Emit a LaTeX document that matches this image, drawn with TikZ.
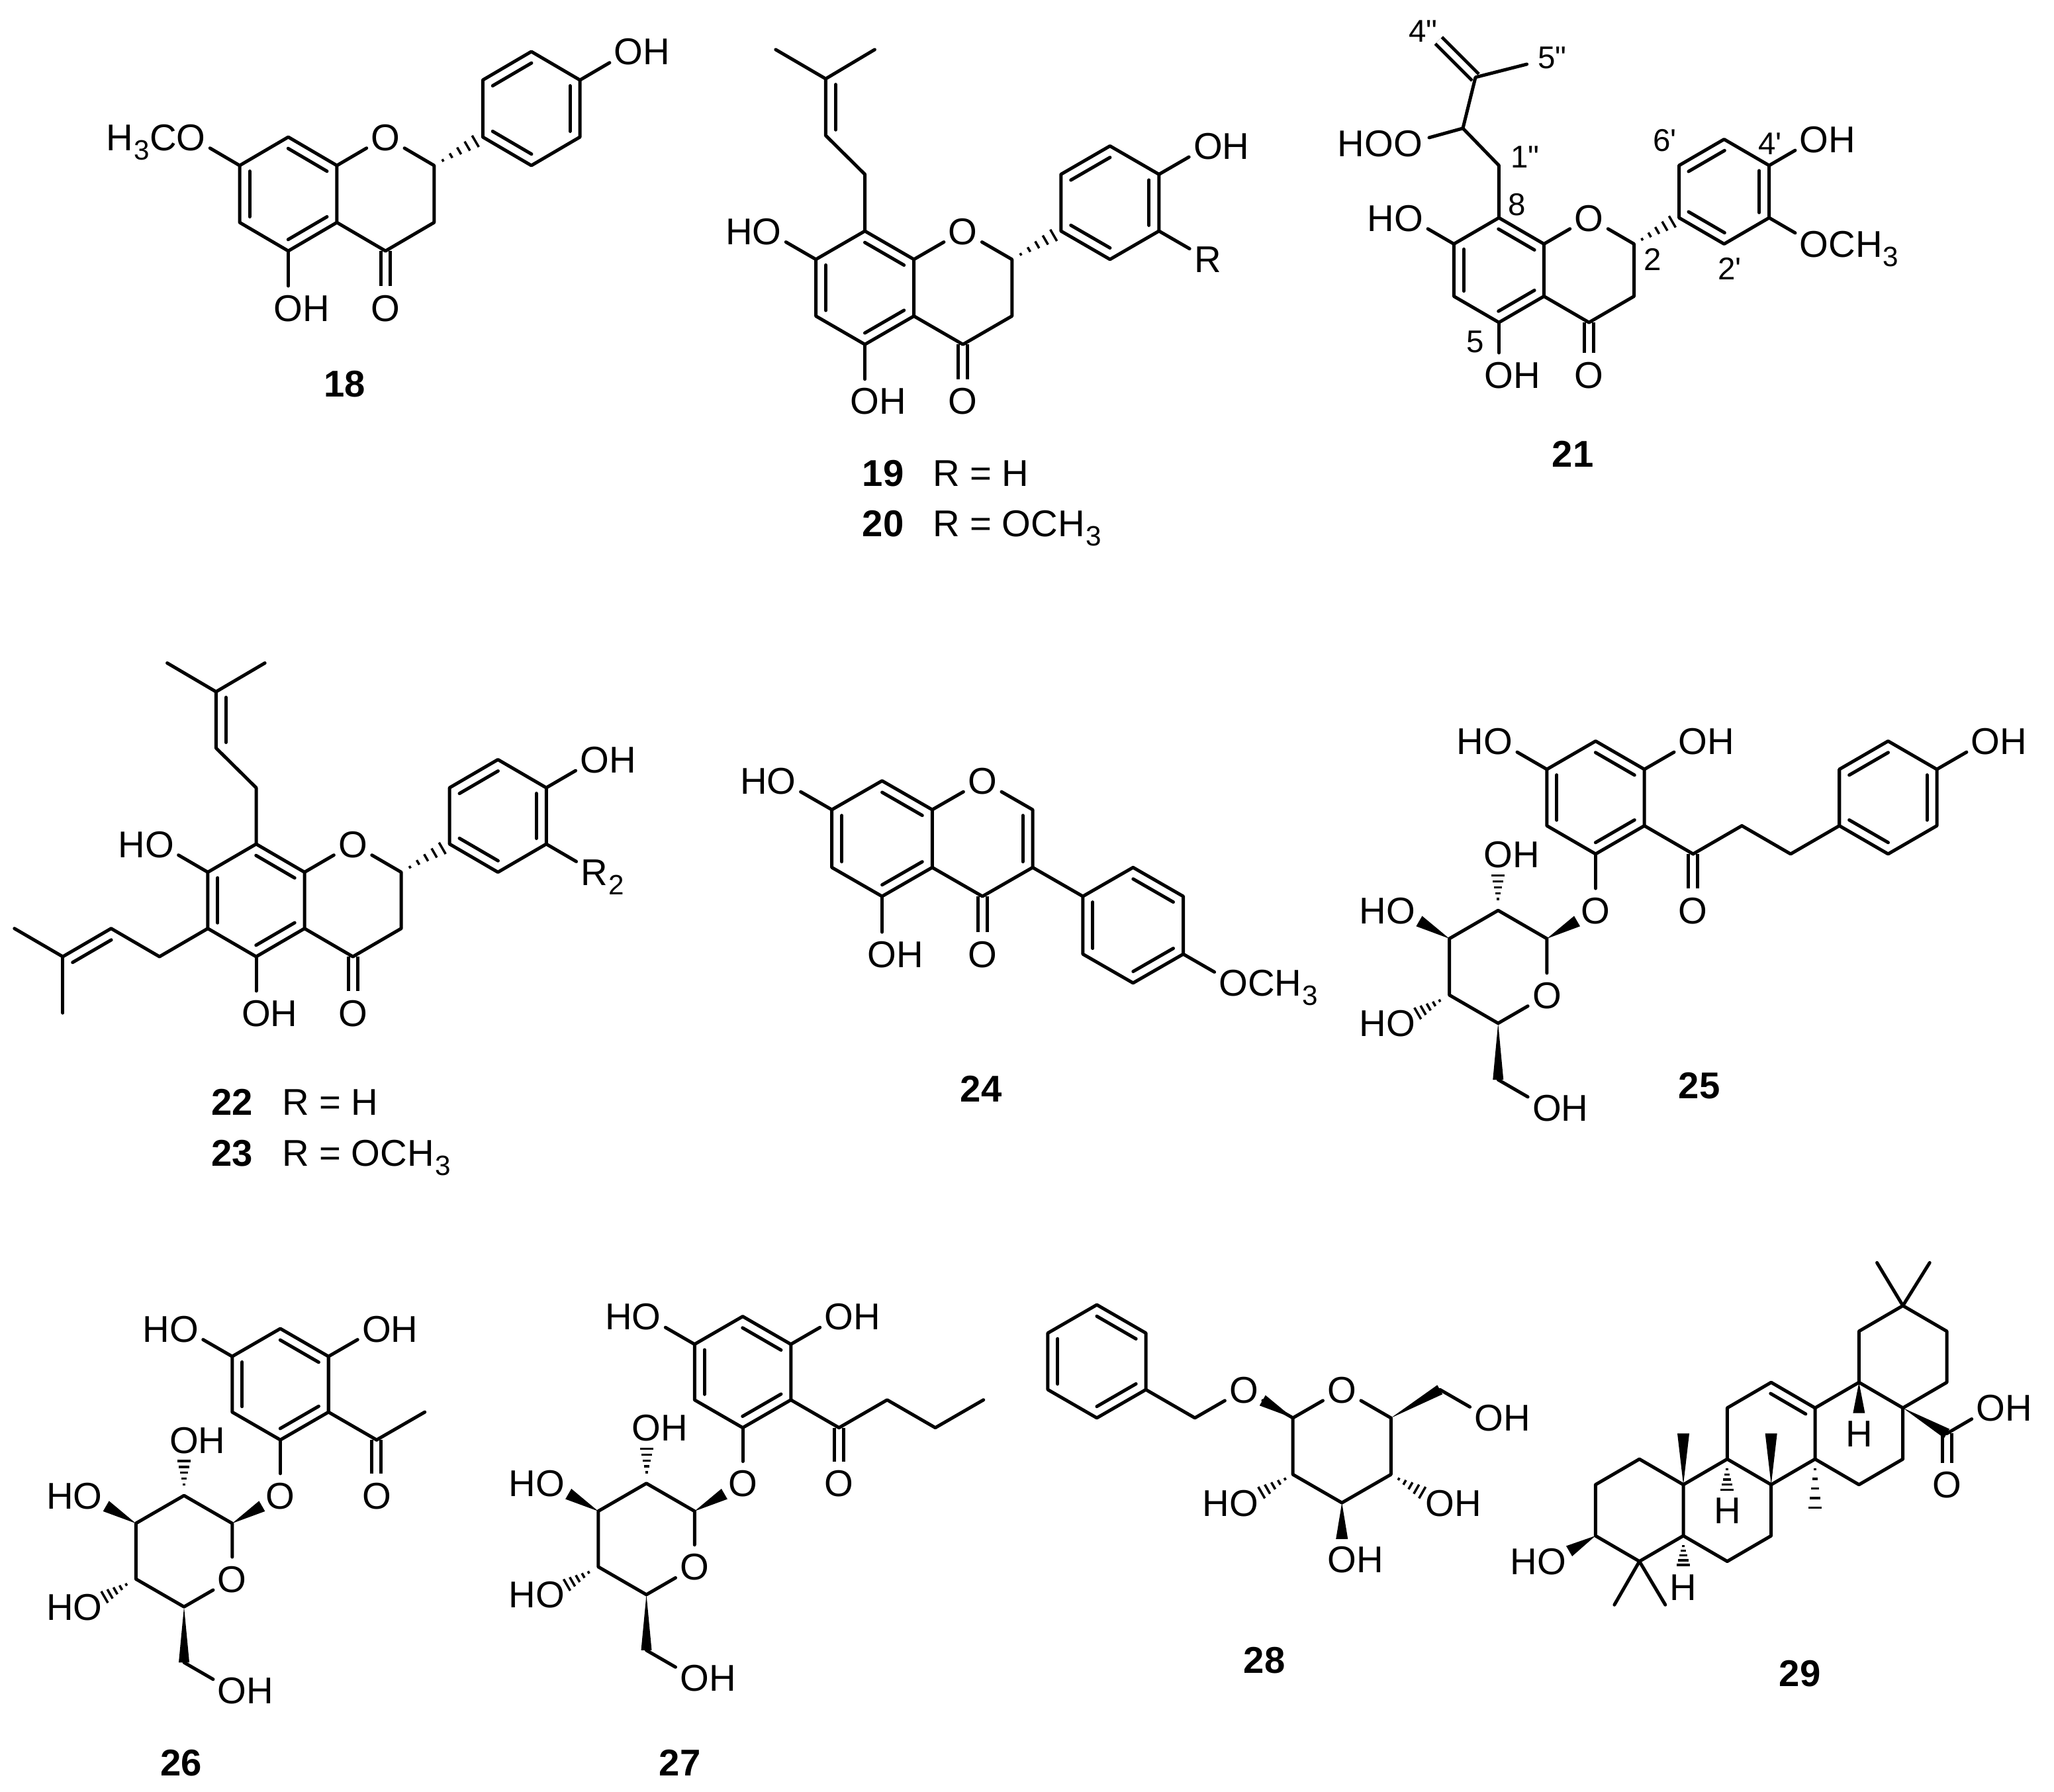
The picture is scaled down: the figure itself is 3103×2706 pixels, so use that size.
\documentclass[tikz,border=0pt]{standalone}
\usepackage{fontspec}
\usetikzlibrary{calc}
\newfontfamily\chemfont{Liberation Sans}
\tikzset{
  bond/.style={line width=.05cm,line cap=round,line join=round},
  cobond/.style={line width=.05cm,double,double distance=.09cm},
  hash/.style={line width=.035cm},
  atom/.style={circle,inner sep=.02cm,text height=.4cm,text depth=0pt,font=\chemfont\fontsize{16}{18}\selectfont},
  num/.style={inner sep=0pt,font=\chemfont\fontsize{13.5}{15}\selectfont},
  cid/.style={inner sep=0pt,text height=.4cm,text depth=0pt,font=\chemfont\fontsize{16}{18}\selectfont\bfseries},
  cidr/.style={cid,anchor=west,font=\chemfont\fontsize{16}{18}\selectfont}
}
\newcommand{\chsub}[1]{\kern.02em\raisebox{-.25em}{\fontsize{12}{12}\selectfont #1}}
\newcommand{\atoms}[1]{\foreach \nm/\xx/\yy in {#1}{\coordinate (\nm) at (\xx,\yy);}}
% inner line of a double bond, on the left of a->b
\newcommand{\inbond}[2]{\draw[bond] ($(#1)!.1!(#2)!.15cm!90:(#2)$) -- ($(#1)!.9!(#2)!.15cm!90:(#2)$);}
% wedge: tip, target, length fraction, half width in cm
\newcommand{\wedgeb}[4]{\fill (#1) -- ($(#1)!#3!(#2)!#4cm!90:(#1)$) -- ($(#1)!#3!(#2)!#4cm!-90:(#1)$) -- cycle;}
% hashed bond: start, target, first and last fraction
\newcommand{\hashb}[4]{\foreach \i in {0,...,4}{
    \pgfmathsetmacro{\hpos}{#3+(#4-#3)*\i/4}
    \pgfmathsetmacro{\hw}{.02+.08*\i/4}
    \draw[hash] ($(#1)!\hpos!(#2)!\hw cm!90:(#2)$) -- ($(#1)!\hpos!(#2)!\hw cm!-90:(#2)$);
  }}
% 5-hydroxy flavanone skeleton with its B ring
\newcommand{\flavcore}{
  \atoms{c8/0/0,c7/-1/1,c8a/1/1,c2/3/1,c3/3/3,c4/2/4,c4a/1/3,c5/0/4,c6/-1/3,
    b1/4/0,b2/5/1,b3/6/0,b4/6/-2,b5/5/-3,b6/4/-2}
  \node[atom] (o1) at (2,0) {O};
  \node[atom] (o4) at (2,6) {O};
  \node[atom] (o5) at (0,6) {O\rlap{H}};
  \node[atom] (o4p) at (7,-3) {O\rlap{H}};
  \draw[cobond] (c4) -- (o4);
  \draw[bond] (c7) -- (c8) -- (c8a) -- (c4a) -- (c5) -- (c6) -- cycle;
  \draw[bond] (c8a) -- (o1) -- (c2) -- (c3) -- (c4) -- (c4a);
  \draw[bond] (c5) -- (o5);
  \draw[bond] (b1) -- (b2) -- (b3) -- (b4) -- (b5) -- (b6) -- cycle;
  \draw[bond] (b4) -- (o4p);
  \inbond{c7}{c6} \inbond{c5}{c4a} \inbond{c8a}{c8}
  \inbond{b1}{b2} \inbond{b3}{b4} \inbond{b5}{b6}
  \hashb{c2}{b1}{.18}{.85}
}
% acylphloroglucinol with its glucose
\newcommand{\glucoside}{
  \atoms{p1/0/0,p2/-1/1,p3/-1/3,p4/0/4,p5/1/3,p6/1/1,k/2/4,
    s1/-1/7,s2/-2/6,s3/-3/7,s4/-3/9,s5/-2/10,s6/-2/12}
  \node[atom] (oa) at (-2,0) {\llap{H}O};
  \node[atom] (ob) at (2,0) {O\rlap{H}};
  \node[atom] (og) at (0,6) {O};
  \node[atom] (ok) at (2,6) {O};
  \node[atom] (so) at (-1,9) {O};
  \node[atom] (o2) at (-2,4) {O\rlap{H}};
  \node[atom] (o3) at (-4,6) {\llap{H}O};
  \node[atom] (o4) at (-4,10) {\llap{H}O};
  \node[atom] (o6) at (-1,13) {O\rlap{H}};
  \draw[cobond] (k) -- (ok);
  \draw[bond] (p1) -- (p2) -- (p3) -- (p4) -- (p5) -- (p6) -- cycle;
  \draw[bond] (p2) -- (oa);
  \draw[bond] (p6) -- (ob);
  \draw[bond] (p4) -- (og);
  \draw[bond] (p5) -- (k);
  \draw[bond] (s1) -- (s2) -- (s3) -- (s4) -- (s5) -- (so) -- (s1);
  \draw[bond] (s6) -- (o6);
  \inbond{p2}{p3} \inbond{p4}{p5} \inbond{p6}{p1}
  \wedgeb{s1}{og}{.62}{.09} \wedgeb{s3}{o3}{.62}{.09} \wedgeb{s5}{s6}{1}{.08}
  \hashb{s2}{o2}{.2}{.62} \hashb{s4}{o4}{.2}{.65}
}
\begin{document}
\begin{tikzpicture}[x=.01cm,y=-.01cm]
\path[use as bounding box] (0,0) rectangle (3103,2706);

% 18
\begin{scope}[shift={(435.5,207)},x=.734cm,y=-.43cm,name prefix=m18-]
  \flavcore
  \node[atom] (o7) at (-2,0) {\llap{H\chsub{3}C}O};
  \draw[bond] (c7) -- (o7);
\end{scope}
\node[cid] (l18) at (521,579) {18};

% 19, 20
\begin{scope}[shift={(1306.6,349)},x=.74cm,y=-.428cm,name prefix=m19-]
  \flavcore
  \atoms{x1/0/-2,x2/-.8/-3.37,x3/-.8/-5.37,x4/-1.82/-6.4,x5/.2/-6.4}
  \node[atom] (o7) at (-2,0) {\llap{H}O};
  \node[atom] (r) at (7,1) {R};
  \draw[bond] (c7) -- (o7);
  \draw[bond] (b3) -- (r);
  \draw[bond] (c8) -- (x1) -- (x2) -- (x3) -- (x4);
  \draw[bond] (x3) -- (x5);
  \inbond{x3}{x2}
\end{scope}
\node[cidr] (l19) at (1302,714) {{\bfseries 19}\hspace{.78em}R = H};
\node[cidr] (l20) at (1302,790) {{\bfseries 20}\hspace{.78em}R = OCH\chsub{3}};

% 21
\begin{scope}[shift={(2264.4,329)},x=.68cm,y=-.395cm,name prefix=m21-]
  \flavcore
  \atoms{x1/0/-2,x2/-.8/-3.42,x3/-.52/-5.37,x4/-1.34/-6.78,x5/.62/-5.87}
  \node[atom] (o7) at (-2,0) {\llap{H}O};
  \node[atom] (ox) at (-2.02,-2.84) {\llap{HO}O};
  \node[atom] (om) at (7,1) {O\rlap{CH\chsub{3}}};
  \draw[cobond] (x3) -- (x4);
  \draw[bond] (c7) -- (o7);
  \draw[bond] (b3) -- (om);
  \draw[bond] (c8) -- (x1) -- (x2) -- (x3) -- (x5);
  \draw[bond] (x2) -- (ox);
\end{scope}
\node[num] (n4b) at (2150,47) {4"};
\node[num] (n5b) at (2345,87) {5"};
\node[num] (n1b) at (2304,237) {1"};
\node[num] (n8) at (2292,309) {8};
\node[num] (n6a) at (2515,212) {6'};
\node[num] (n4a) at (2674,217) {4'};
\node[num] (n2) at (2497,392) {2};
\node[num] (n2a) at (2613,406) {2'};
\node[num] (n5) at (2229,516) {5};
\node[cid] (l21) at (2376,685) {21};

% 22, 23
\begin{scope}[shift={(387,1275)},x=.73cm,y=-.425cm,name prefix=m22-]
  \flavcore
  \atoms{x1/0/-2,x2/-.83/-3.41,x3/-.83/-5.41,x4/-1.84/-6.43,x5/.18/-6.43,
    q1/-2/4,q2/-3/3,q3/-4/4,q4/-5/3,q5/-4/6}
  \node[atom] (o7) at (-2,0) {\llap{H}O};
  \node[atom] (r) at (7,1) {R\rlap{\chsub{2}}};
  \draw[bond] (c7) -- (o7);
  \draw[bond] (b3) -- (r);
  \draw[bond] (c8) -- (x1) -- (x2) -- (x3) -- (x4);
  \draw[bond] (x3) -- (x5);
  \draw[bond] (c6) -- (q1) -- (q2) -- (q3) -- (q4);
  \draw[bond] (q3) -- (q5);
  \inbond{x3}{x2} \inbond{q2}{q3}
\end{scope}
\node[cidr] (l22) at (319,1664) {{\bfseries 22}\hspace{.78em}R = H};
\node[cidr] (l23) at (319,1741) {{\bfseries 23}\hspace{.78em}R = OCH\chsub{3}};

% 24
\begin{scope}[shift={(1332.5,1179.5)},x=.758cm,y=-.436cm,name prefix=m24-]
  \atoms{c8/0/0,c7/-1/1,c8a/1/1,c2/3/1,c3/3/3,c4/2/4,c4a/1/3,c5/0/4,c6/-1/3,
    b1/4/4,b2/5/3,b3/6/4,b4/6/6,b5/5/7,b6/4/6}
  \node[atom] (o1) at (2,0) {O};
  \node[atom] (o4) at (2,6) {O};
  \node[atom] (o5) at (0,6) {O\rlap{H}};
  \node[atom] (o7) at (-2,0) {\llap{H}O};
  \node[atom] (om) at (7,7) {O\rlap{CH\chsub{3}}};
  \draw[cobond] (c4) -- (o4);
  \draw[bond] (c7) -- (c8) -- (c8a) -- (c4a) -- (c5) -- (c6) -- cycle;
  \draw[bond] (c8a) -- (o1) -- (c2) -- (c3) -- (c4) -- (c4a);
  \draw[bond] (c5) -- (o5);
  \draw[bond] (c7) -- (o7);
  \draw[bond] (c3) -- (b1) -- (b2) -- (b3) -- (b4) -- (b5) -- (b6) -- (b1);
  \draw[bond] (b4) -- (om);
  \inbond{c7}{c6} \inbond{c5}{c4a} \inbond{c8a}{c8} \inbond{c3}{c2}
  \inbond{b1}{b6} \inbond{b5}{b4} \inbond{b3}{b2}
\end{scope}
\node[cid] (l24) at (1482,1644) {24};

% 25
\begin{scope}[shift={(2410.5,1119.5)},x=.736cm,y=-.426cm,name prefix=m25-]
  \glucoside
  \atoms{x1/3/3,x2/4/4,b1/5/3,b2/6/4,b3/7/3,b4/7/1,b5/6/0,b6/5/1}
  \node[atom] (oh) at (8,0) {O\rlap{H}};
  \draw[bond] (k) -- (x1) -- (x2) -- (b1) -- (b2) -- (b3) -- (b4) -- (b5) -- (b6) -- (b1);
  \draw[bond] (b4) -- (oh);
  \inbond{b5}{b6} \inbond{b1}{b2} \inbond{b3}{b4}
\end{scope}
\node[cid] (l25) at (2567,1639) {25};

% 26
\begin{scope}[shift={(423.5,2007)},x=.727cm,y=-.42cm,name prefix=m26-]
  \glucoside
  \coordinate (me) at (3,3);
  \draw[bond] (k) -- (me);
\end{scope}
\node[cid] (l26) at (274,2662) {26};

% 27
\begin{scope}[shift={(1122,1988.6)},x=.727cm,y=-.42cm,name prefix=m27-]
  \glucoside
  \atoms{x1/3/3,x2/4/4,x3/5/3}
  \draw[bond] (k) -- (x1) -- (x2) -- (x3);
\end{scope}
\node[cid] (l27) at (1027,2662) {27};

% 28
\begin{scope}[shift={(1657,1971)},x=.74cm,y=-.427cm,name prefix=m28-]
  \atoms{p1/0/0,p2/-1/1,p3/-1/3,p4/0/4,p5/1/3,p6/1/1,x1/2/4,
    s1/4/4,s2/4/6,s3/5/7,s4/6/6,s5/6/4,s6/7/3}
  \node[atom] (og) at (3,3) {O};
  \node[atom] (so) at (5,3) {O};
  \node[atom] (o2) at (3,7) {\llap{H}O};
  \node[atom] (o3) at (5,9) {O\rlap{H}};
  \node[atom] (o4) at (7,7) {O\rlap{H}};
  \node[atom] (o6) at (8,4) {O\rlap{H}};
  \draw[bond] (p1) -- (p2) -- (p3) -- (p4) -- (p5) -- (p6) -- cycle;
  \draw[bond] (p5) -- (x1) -- (og) -- (s1);
  \draw[bond] (s1) -- (s2) -- (s3) -- (s4) -- (s5) -- (so) -- (s1);
  \draw[bond] (s6) -- (o6);
  \inbond{p6}{p1} \inbond{p2}{p3} \inbond{p4}{p5}
  \wedgeb{s1}{og}{.62}{.09} \wedgeb{s5}{s6}{1}{.08} \wedgeb{s3}{o3}{.64}{.09}
  \hashb{s2}{o2}{.16}{.64} \hashb{s4}{o4}{.16}{.64}
\end{scope}
\node[cid] (l28) at (1910,2507) {28};

% 29
\begin{scope}[shift={(2543,2242.7)},x=.663cm,y=-.386cm,name prefix=m29-]
  \atoms{c10/0/0,c1/-1/-1,c2/-2/0,c3/-2/2,c4/-1/3,c5/0/2,c9/1/-1,c8/2/0,c7/2/2,c6/1/3,
    c11/1/-3,c12/2/-4,c13/3/-3,c14/3/-1,c18/4/-4,c17/5/-3,c16/5/-1,c15/4/0,
    c19/4/-6,c20/5/-7,c21/6/-6,c22/6/-4,c28/6/-2,
    m1/4.41/-8.68,m2/5.61/-8.68,m3/-1.57/4.7,m4/-.41/4.7,m5/0/-2,m6/2/-2,m7/3/1}
  \node[atom] (o3) at (-3,3) {\llap{H}O};
  \node[atom] (h9) at (1,1) {H};
  \node[atom] (h5) at (0,4) {H};
  \node[atom] (h18) at (4,-2) {H};
  \node[atom] (oc) at (6,0) {O};
  \node[atom] (oh) at (7,-3) {O\rlap{H}};
  \draw[cobond] (c28) -- (oc);
  \draw[bond] (c10) -- (c1) -- (c2) -- (c3) -- (c4) -- (c5) -- cycle;
  \draw[bond] (c10) -- (c9) -- (c8) -- (c7) -- (c6) -- (c5);
  \draw[bond] (c9) -- (c11) -- (c12) -- (c13) -- (c14) -- (c8);
  \draw[bond] (c13) -- (c18) -- (c17) -- (c16) -- (c15) -- (c14);
  \draw[bond] (c18) -- (c19) -- (c20) -- (c21) -- (c22) -- (c17);
  \draw[bond] (c20) -- (m1);
  \draw[bond] (c20) -- (m2);
  \draw[bond] (c4) -- (m3);
  \draw[bond] (c4) -- (m4);
  \draw[bond] (c28) -- (oh);
  \inbond{c13}{c12}
  \wedgeb{c3}{o3}{.6}{.09} \wedgeb{c10}{m5}{1}{.09} \wedgeb{c8}{m6}{1}{.09}
  \wedgeb{c18}{h18}{.6}{.09} \wedgeb{c17}{c28}{1}{.08}
  \hashb{c9}{h9}{.2}{.6} \hashb{c5}{h5}{.2}{.57} \hashb{c14}{m7}{.2}{.95}
\end{scope}
\node[cid] (l29) at (2719,2527) {29};
\end{tikzpicture}
\end{document}
